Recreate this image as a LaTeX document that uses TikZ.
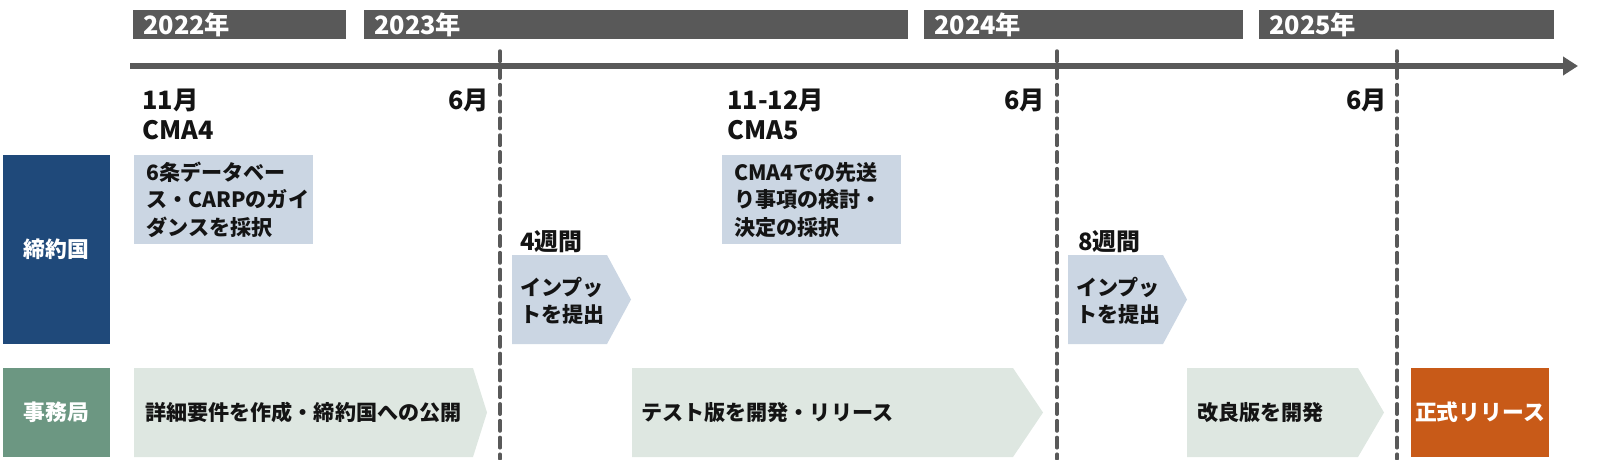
\documentclass[tikz,border=0pt]{standalone}
\usepackage{fontspec}
\setmainfont{Noto Sans CJK JP}
\usetikzlibrary{arrows.meta,positioning}
\definecolor{tlgray}{RGB}{89,89,89}
\definecolor{tlnavy}{RGB}{31,73,122}
\definecolor{tlsage}{RGB}{108,151,130}
\definecolor{tlblue}{RGB}{203,214,227}
\definecolor{tlmint}{RGB}{222,231,225}
\definecolor{tlorange}{RGB}{200,90,24}
\definecolor{tlink}{RGB}{20,20,20}

\begin{document}
\begin{tikzpicture}[x=0.25mm,y=-0.25mm,
    yeartext/.style={anchor=west,text=white,inner sep=0pt,font=\fontsize{18}{20}\selectfont\bfseries},
    toplabel/.style={text=tlink,inner sep=0pt,font=\fontsize{18}{20}\selectfont\bfseries},
    weeklabel/.style={anchor=west,text=tlink,inner sep=0pt,font=\fontsize{17}{20}\selectfont\bfseries},
    lanebox/.style={text=white,minimum width=26.75mm,align=center,inner sep=0pt,font=\fontsize{15.5}{19.5}\selectfont\bfseries},
    notebox/.style={fill=tlblue,anchor=north west,text=tlink,align=left,inner xsep=3mm,text width=38.75mm,
      minimum height=22.25mm,font=\fontsize{15}{19.5}\selectfont\bfseries},
    chevtext/.style={anchor=west,text=tlink,align=left,inner sep=0pt,font=\fontsize{15}{19.5}\selectfont\bfseries},
    monthline/.style={draw=tlgray,line width=0.875mm,dash pattern=on 2.6mm off 1.6mm,line cap=round},
    axisline/.style={draw=tlgray,line width=1.3mm,-{Triangle[length=3.75mm,width=4.5mm]}}]
  \useasboundingbox (0,0) rectangle (1600,459);

  % year bars
  \foreach \xa/\xb/\yr in {133/346/2022,364/908/2023,924/1243/2024,1259/1554/2025}{
    \fill[tlgray] (\xa,10) rectangle (\xb,39);
    \node[yeartext] (yr\yr) at (\xa+10,24.5) {\yr{}年};
  }

  % time axis and month markers
  \coordinate (axisstart) at (130,66);
  \coordinate (axisend) at (1578,66);
  \draw[axisline] (axisstart) -- (axisend);
  \foreach \xd/\nm in {500/mk23,1057/mk24,1397/mk25}{
    \coordinate (\nm-top) at (\xd,51);
    \coordinate (\nm-bot) at (\xd,459);
    \draw[monthline] (\nm-top) -- (\nm-bot);
  }

  \node[toplabel,anchor=west] (nov22) at (142,100) {11月};
  \node[toplabel,anchor=west] (cma4) at (142,130) {CMA4};
  \node[toplabel,anchor=east] (jun23) at (489,100) {6月};
  \node[toplabel,anchor=west] (dec23) at (727,100) {11-12月};
  \node[toplabel,anchor=west] (cma5) at (727,130) {CMA5};
  \node[toplabel,anchor=east] (jun24) at (1045,100) {6月};
  \node[toplabel,anchor=east] (jun25) at (1387,100) {6月};

  % lanes
  \node[lanebox,fill=tlnavy,minimum height=47.25mm] (parties) at (56.5,249.5) {締約国};
  \node[lanebox,fill=tlsage,minimum height=22.25mm] (secretariat) at (56.5,412.5) {事務局};

  % parties
  \node[notebox] (guidance) at (134,155) {6条データベー\\ス・CARPのガイ\\ダンスを採択};
  \node[notebox] (pending) at (722,155) {CMA4での先送\\り事項の検討・\\決定の採択};

  \node[weeklabel] (wk4) at (520,242) {4週間};
  \fill[tlblue] (512,255) -- (607,255) -- (631,299.5) -- (607,344) -- (512,344) -- cycle;
  \node[chevtext] (input1) at (520,301) {インプッ\\トを提出};

  \node[weeklabel] (wk8) at (1078,242) {8週間};
  \fill[tlblue] (1068,255) -- (1163,255) -- (1187,299.5) -- (1163,344) -- (1068,344) -- cycle;
  \node[chevtext] (input2) at (1076,301) {インプッ\\トを提出};

  % secretariat
  \fill[tlmint] (134,368) -- (473,368) -- (487,412.5) -- (473,457) -- (134,457) -- cycle;
  \node[chevtext] (spec) at (145,412.5) {詳細要件を作成・締約国への公開};
  \fill[tlmint] (632,368) -- (1013,368) -- (1043,412.5) -- (1013,457) -- (632,457) -- cycle;
  \node[chevtext] (beta) at (641,412.5) {テスト版を開発・リリース};
  \fill[tlmint] (1187,368) -- (1358,368) -- (1384,412.5) -- (1358,457) -- (1187,457) -- cycle;
  \node[chevtext] (improve) at (1197,412.5) {改良版を開発};
  \node[lanebox,fill=tlorange,minimum width=34.5mm,minimum height=22.25mm] (release) at (1480,412.5) {正式リリース};
\end{tikzpicture}
\end{document}
